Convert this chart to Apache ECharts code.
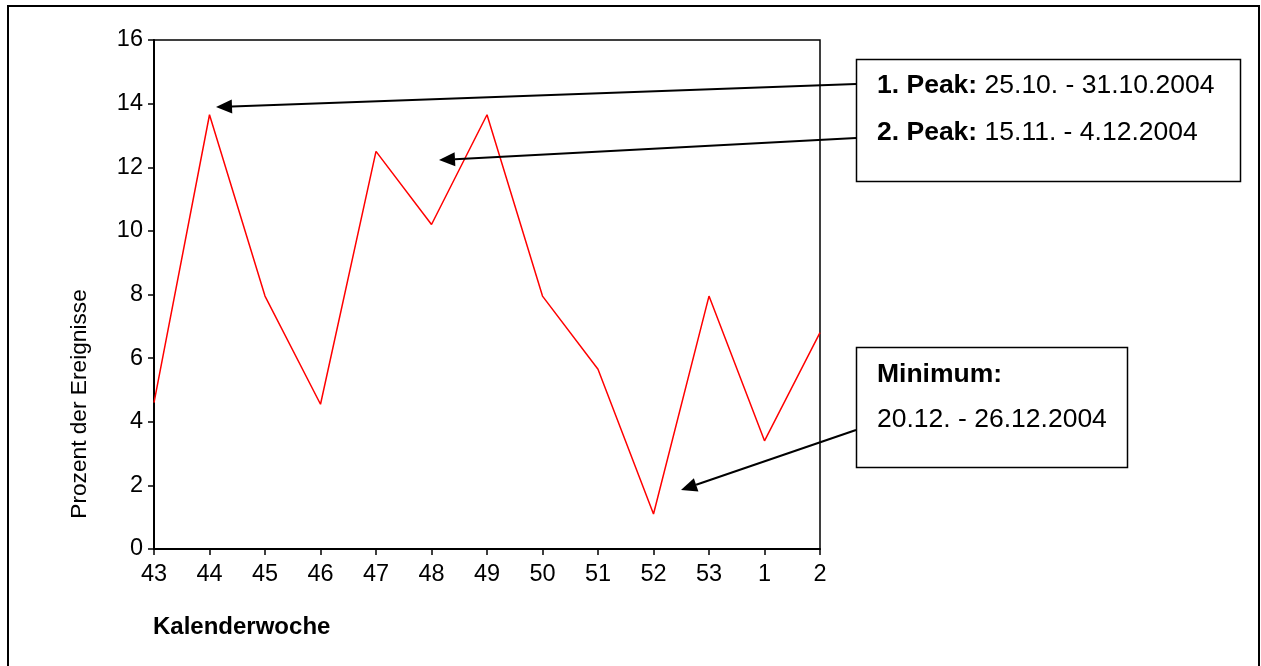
<!DOCTYPE html>
<html>
<head>
<meta charset="utf-8">
<script src="https://cdn.jsdelivr.net/npm/echarts@6/dist/echarts.min.js"></script>
<style>
html,body{margin:0;padding:0;background:#fff;}
#chart{width:1261px;height:666px;}
</style>
</head>
<body>
<div id="chart"></div>
<script>
var categories = ['43','44','45','46','47','48','49','50','51','52','53','1','2'];
var values = [4.6, 13.65, 7.95, 4.55, 12.5, 10.2, 13.65, 7.95, 5.65, 1.1, 7.95, 3.4, 6.8];
var yTicks = [0, 2, 4, 6, 8, 10, 12, 14, 16];
var yTitle = 'Prozent der Ereignisse';
var xTitle = 'Kalenderwoche';
var peak1Label = '1. Peak:', peak1Text = ' 25.10. - 31.10.2004';
var peak2Label = '2. Peak:', peak2Text = ' 15.11. - 4.12.2004';
var minLabel = 'Minimum:', minText = '20.12. - 26.12.2004';

var FONT = 'Liberation Sans, Arial, sans-serif';
var chart = echarts.init(document.getElementById('chart'));

function arrow(x1, y1, x2, y2) {
  var ang = Math.atan2(y1 - y2, x1 - x2);
  var len = 16, half = 7;
  var bx = x2 + Math.cos(ang) * len, by = y2 + Math.sin(ang) * len;
  var px = -Math.sin(ang) * half, py = Math.cos(ang) * half;
  return [
    { type: 'line', z: 10, shape: { x1: x1, y1: y1, x2: bx, y2: by }, style: { stroke: '#000', lineWidth: 2 } },
    { type: 'polygon', z: 10, shape: { points: [[x2, y2], [bx + px, by + py], [bx - px, by - py]] }, style: { fill: '#000' } }
  ];
}

var rich = { b: { font: 'bold 26.5px ' + FONT, fill: '#000' }, n: { font: '26.5px ' + FONT, fill: '#000' } };

var graphics = [
  { type: 'rect', shape: { x: 8, y: 6, width: 1251, height: 700 }, style: { fill: 'none', stroke: '#000', lineWidth: 2 } },
  { type: 'text', x: 80, y: 404, rotation: Math.PI / 2, style: { text: yTitle, font: '22.7px ' + FONT, fill: '#000', textAlign: 'center', textVerticalAlign: 'middle' } },
  { type: 'text', x: 153, y: 627, style: { text: xTitle, font: 'bold 24px ' + FONT, fill: '#000', textAlign: 'left', textVerticalAlign: 'middle' } },
  { type: 'rect', z: 11, shape: { x: 856.5, y: 59.5, width: 384, height: 122 }, style: { fill: '#fff', stroke: '#000', lineWidth: 1.5 } },
  { type: 'text', z: 12, x: 877, y: 86, style: { rich: rich, text: '{b|' + peak1Label + '}{n|' + peak1Text + '}', textVerticalAlign: 'middle' } },
  { type: 'text', z: 12, x: 877, y: 133, style: { rich: rich, text: '{b|' + peak2Label + '}{n|' + peak2Text + '}', textVerticalAlign: 'middle' } },
  { type: 'rect', z: 11, shape: { x: 856.5, y: 347.5, width: 271, height: 120 }, style: { fill: '#fff', stroke: '#000', lineWidth: 1.5 } },
  { type: 'text', z: 12, x: 877, y: 375, style: { text: minLabel, font: 'bold 26.5px ' + FONT, fill: '#000', textVerticalAlign: 'middle' } },
  { type: 'text', z: 12, x: 877, y: 420, style: { text: minText, font: '26.5px ' + FONT, fill: '#000', textVerticalAlign: 'middle' } }
];
graphics = graphics.concat(arrow(856, 84, 216, 107), arrow(856, 138, 439, 160), arrow(856, 430, 681, 490));

chart.setOption({
  animation: false,
  backgroundColor: '#fff',
  grid: { left: 154, top: 40, right: 441, bottom: 117, show: true, borderColor: '#000', borderWidth: 1.5, backgroundColor: 'transparent' },
  xAxis: {
    type: 'category', data: categories, boundaryGap: false,
    axisLine: { lineStyle: { color: '#000', width: 2 } },
    axisTick: { show: true, length: 6, alignWithLabel: true, lineStyle: { color: '#000', width: 1.5 } },
    axisLabel: { color: '#000', fontSize: 23.5, fontFamily: FONT, margin: 14 },
    splitLine: { show: false }
  },
  yAxis: {
    type: 'value', min: 0, max: 16, interval: 2,
    axisLine: { show: true, lineStyle: { color: '#000', width: 2 } },
    axisTick: { show: true, length: 6, lineStyle: { color: '#000', width: 1.5 } },
    axisLabel: { color: '#000', fontSize: 23.5, fontFamily: FONT, margin: 11,
      formatter: function (v) { return yTicks.indexOf(v) >= 0 ? String(v) : ''; } },
    splitLine: { show: false }
  },
  series: [{
    type: 'line', data: values, showSymbol: false, symbol: 'none',
    lineStyle: { color: '#ff0000', width: 1.5 }
  }],
  graphic: graphics
});
</script>
</body>
</html>
